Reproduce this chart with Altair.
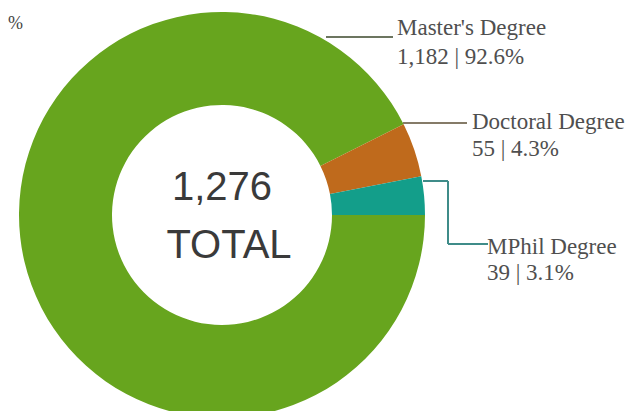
import math
import altair as alt
import pandas as pd

# ---- data ----
categories = ["Master's Degree", "Doctoral Degree", "MPhil Degree"]
counts = [1182, 55, 39]
percents = ["92.6%", "4.3%", "3.1%"]
total_value = 1276
total_label = "TOTAL"

# ---- styles / layout (not data) ----
colors = ["#67a51e", "#bf6a1c", "#139e8a"]
line_colors = ["#6c7560", "#857b68", "#3f8c89"]
OFF = 8  # page margin
CX, CY = 222 - OFF, 215 - OFF
R_OUT, R_IN = 203, 110

# label anchors (reference pixel coords)
label_pos = [(397, 28, 57), (472, 122, 149), (487, 247, 273)]
# leader line segments per category (reference pixel coords)
leader_segments = [
    [(326, 37, 393, 37)],
    [(403, 123, 467, 123)],
    [(423, 181, 448, 181), (448, 181, 448, 244), (448, 244, 488, 244)],
]

df = pd.DataFrame({
    "category": categories,
    "count": counts,
    "order": list(range(len(categories))),
})

color_scale = alt.Scale(domain=categories, range=colors)

donut = alt.Chart(df).mark_arc(radius=R_OUT, radius2=R_IN).encode(
    theta=alt.Theta("count:Q", stack=True,
                    scale=alt.Scale(range=[math.pi / 2, math.pi / 2 + 2 * math.pi])),
    order=alt.Order("order:Q"),
    color=alt.Color("category:N", scale=color_scale, legend=None),
    x=alt.value(CX),
    y=alt.value(CY),
)

seg_rows = []
for cat, segs, lc in zip(categories, leader_segments, line_colors):
    for (x1, y1, x2, y2) in segs:
        seg_rows.append({"category": cat, "x": x1 - OFF, "y": y1 - OFF,
                         "x2": x2 - OFF, "y2": y2 - OFF, "lc": lc})
seg_df = pd.DataFrame(seg_rows)

leaders = alt.Chart(seg_df).mark_rule(strokeWidth=2).encode(
    x=alt.X("x:Q", scale=None, axis=None),
    y=alt.Y("y:Q", scale=None, axis=None),
    x2="x2:Q",
    y2="y2:Q",
    color=alt.Color("lc:N", scale=None, legend=None),
)

lab_rows = []
for cat, c, p, (lx, ly1, ly2) in zip(categories, counts, percents, label_pos):
    lab_rows.append({"text": cat, "x": lx - OFF, "y": ly1 - OFF})
    lab_rows.append({"text": f"{c:,} | {p}", "x": lx - OFF, "y": ly2 - OFF})
lab_df = pd.DataFrame(lab_rows)

labels = alt.Chart(lab_df).mark_text(
    align="left", baseline="middle", font="Liberation Serif",
    fontSize=23, color="#4f4f4f"
).encode(
    x=alt.X("x:Q", scale=None, axis=None),
    y=alt.Y("y:Q", scale=None, axis=None),
    text="text:N",
)

center_df = pd.DataFrame({
    "text": [f"{total_value:,}", total_label],
    "x": [222 - OFF, 229 - OFF],
    "y": [188 - OFF, 246 - OFF],
})
center = alt.Chart(center_df).mark_text(
    align="center", baseline="middle", font="Liberation Sans",
    fontSize=40, color="#3a3a3a"
).encode(
    x=alt.X("x:Q", scale=None, axis=None),
    y=alt.Y("y:Q", scale=None, axis=None),
    text="text:N",
)

stray_df = pd.DataFrame({"text": ["%"], "x": [0], "y": [24 - OFF]})
stray = alt.Chart(stray_df).mark_text(
    align="left", baseline="middle", font="Liberation Serif",
    fontSize=18, color="#444444"
).encode(
    x=alt.X("x:Q", scale=None, axis=None),
    y=alt.Y("y:Q", scale=None, axis=None),
    text="text:N",
)

chart = alt.layer(donut, leaders, labels, center, stray).properties(
    width=620, height=403,
    autosize=alt.AutoSizeParams(type="none"),
    padding=0,
    background="white",
).configure_view(stroke=None)

chart.save("out.html", embed_options={"renderer": "svg", "actions": False})
